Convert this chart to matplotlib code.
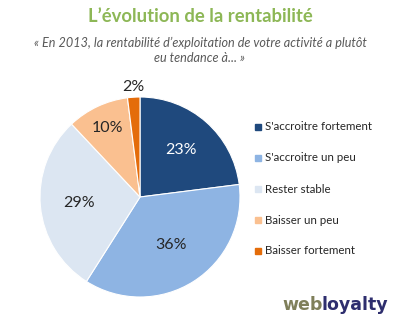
import matplotlib.pyplot as plt
import numpy as np

# Données
categories = ["S'accroitre fortement", "S'accroitre un peu", "Rester stable",
              "Baisser un peu", "Baisser fortement"]
valeurs = [23, 36, 29, 10, 2]
couleurs = ['#1F497D', '#8EB4E3', '#DCE6F2', '#FAC090', '#E46C0A']

plt.rcParams['font.family'] = ['Lato', 'DejaVu Sans']

fig = plt.figure(figsize=(4, 3.22), dpi=100)
fig.patch.set_facecolor('white')

# Titre et sous-titre
fig.text(0.5, 1 - 17 / 322, "L’évolution de la rentabilité", ha='center', va='center',
         fontsize=13.3, fontweight='bold', color='#8DB756')
fig.text(0.5, 1 - 43 / 322, "« En 2013, la rentabilité d’exploitation de votre activité a plutôt",
         ha='center', va='center', fontsize=9.1, style='italic', color='#595959')
fig.text(0.5, 1 - 58 / 322, "eu tendance à... »", ha='center', va='center',
         fontsize=9.1, style='italic', color='#595959')

# Camembert
ax = fig.add_axes([40 / 400, 25 / 322, 200 / 400, 200 / 322])
wedges, _ = ax.pie(valeurs, colors=couleurs, startangle=90, counterclock=False,
                   wedgeprops=dict(edgecolor='white', linewidth=0.8))
ax.set_xlim(-1, 1)
ax.set_ylim(-1, 1)
ax.set_aspect('equal')
ax.axis('off')

distances = [0.62, 0.57, 0.61, 0.76, 1.1]
couleurs_txt = ['white', '#262626', '#262626', '#262626', '#262626']
for w, v, d, c in zip(wedges, valeurs, distances, couleurs_txt):
    ang = np.deg2rad((w.theta1 + w.theta2) / 2)
    ax.text(d * np.cos(ang), d * np.sin(ang), f"{v}%", ha='center', va='center',
            fontsize=11.5, color=c)

# Légende
for i, (cat, col) in enumerate(zip(categories, couleurs)):
    y = 1 - (127 + i * 31) / 322
    fig.patches.append(plt.Rectangle((255 / 400, y - 3 / 322), 6 / 400, 6 / 322,
                                     transform=fig.transFigure, color=col))
    fig.text(265 / 400, y, cat, ha='left', va='center', fontsize=8.3, color='#262626')

# Logo
t = fig.text(282 / 400, 1 - 305 / 322, "web", ha='left', va='center', fontsize=12.5,
             fontweight='heavy', family='DejaVu Sans', color='#7F7F5A')
fig.canvas.draw()
bb = t.get_window_extent()
fig.text(bb.x1 / 400 - 1 / 400, 1 - 305 / 322, "loyalty", ha='left', va='center', fontsize=12.5,
         fontweight='heavy', family='DejaVu Sans', color='#2E2E6E')

fig.savefig('out.png', dpi=100)
